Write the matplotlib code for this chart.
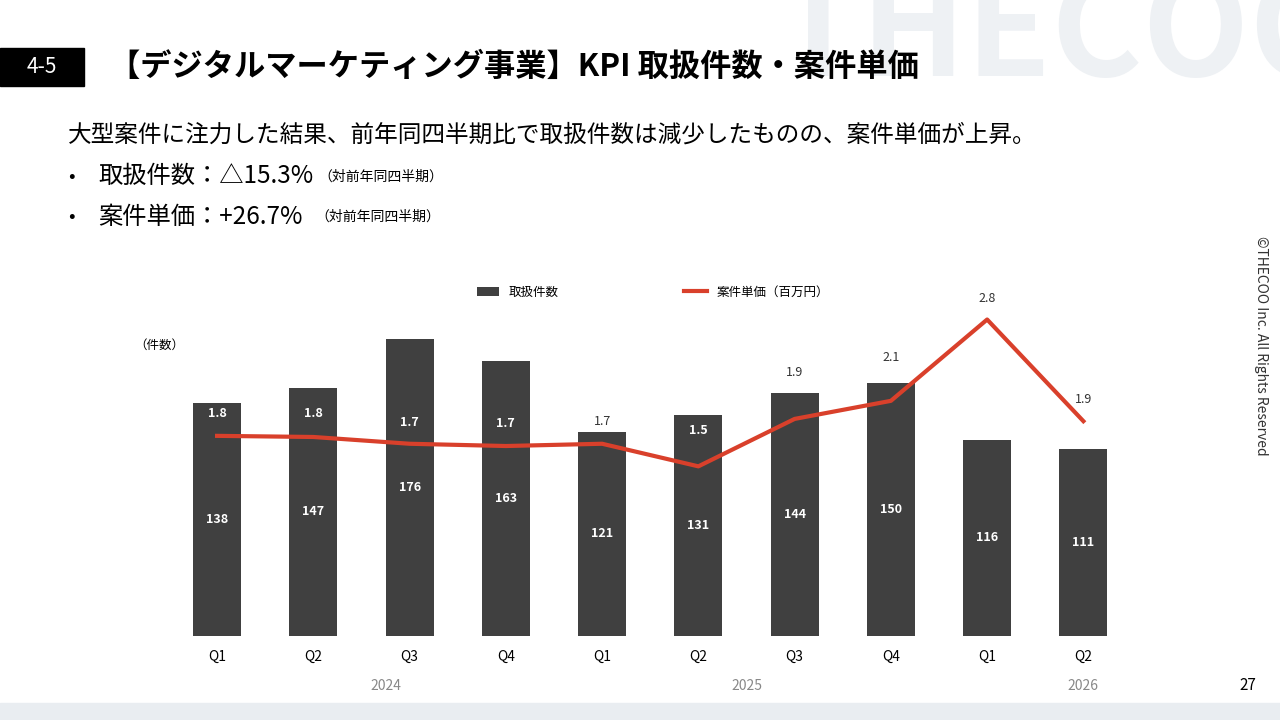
import matplotlib.pyplot as plt
from matplotlib.patches import Rectangle

plt.rcParams['font.family'] = ['Noto Sans CJK JP', 'DejaVu Sans']

quarters = ['Q1', 'Q2', 'Q3', 'Q4', 'Q1', 'Q2', 'Q3', 'Q4', 'Q1', 'Q2']
counts = [138, 147, 176, 163, 121, 131, 144, 150, 116, 111]
unit_price = [1.77, 1.76, 1.70, 1.68, 1.70, 1.50, 1.92, 2.08, 2.80, 1.90]
price_labels = ['1.8', '1.8', '1.7', '1.7', '1.7', '1.5', '1.9', '2.1', '2.8', '1.9']
years = ['2024', '2025', '2026']
year_pos = [1.75, 5.5, 9.0]

# label placement (secondary-axis units) and whether it sits inside a bar
label_y = [1.97, 1.97, 1.89, 1.88, 1.90, 1.82, 2.33, 2.46, 2.99, 2.09]
label_inside = [True, True, True, True, False, True, False, False, False, False]

BAR = '#404040'
RED = '#d9402b'

fig = plt.figure(figsize=(12.8, 7.2), dpi=100)

# background decorations
fig.text(0.605, 0.95, 'THECOO', fontsize=100, fontweight='bold', color='#eef1f4',
         ha='left', va='center', zorder=0)
fig.patches.append(Rectangle((0, 0), 1, 0.024, transform=fig.transFigure, color='#e9edf1', zorder=0))
fig.patches.append(Rectangle((0, 0.88), 0.066, 0.053, transform=fig.transFigure, color='black'))
fig.text(0.033, 0.907, '4-5', color='white', fontsize=15, ha='center', va='center')
fig.text(0.085, 0.907, '【デジタルマーケティング事業】KPI 取扱件数・案件単価', fontsize=22.5,
         fontweight='bold', va='center')
fig.text(0.053, 0.812, '大型案件に注力した結果、前年同四半期比で取扱件数は減少したものの、案件単価が上昇。',
         fontsize=17, va='center')
fig.text(0.053, 0.755, '•', fontsize=14, va='center')
fig.text(0.077, 0.755, '取扱件数：△15.3%', fontsize=17.5, va='center')
fig.text(0.249, 0.755, '（対前年同四半期）', fontsize=10, va='center')
fig.text(0.053, 0.699, '•', fontsize=14, va='center')
fig.text(0.077, 0.699, '案件単価：+26.7%', fontsize=17.5, va='center')
fig.text(0.246, 0.699, '（対前年同四半期）', fontsize=10, va='center')
fig.text(0.985, 0.52, '©THECOO Inc. All Rights Reserved', fontsize=10, rotation=-90,
         ha='center', va='center', color='#333333')
fig.text(0.975, 0.048, '27', fontsize=11, ha='center', va='center')

ax = fig.add_axes([0.132, 0.117, 0.752, 0.48])
x = list(range(len(counts)))
ax.bar(x, counts, width=0.5, color=BAR, label='取扱件数', zorder=1)
ax.set_xlim(-0.5, 9.5)
ax.set_ylim(0, 205)
for s in ax.spines.values():
    s.set_visible(False)
ax.set_yticks([])
ax.set_xticks(x)
ax.set_xticklabels(quarters, fontsize=10)
ax.tick_params(axis='x', length=0, pad=10)
for i, c in enumerate(counts):
    ax.text(i, c / 2, str(c), color='white', fontsize=9, ha='center', va='center', fontweight='bold')
for xp, y in zip(year_pos, years):
    ax.text(xp, -0.145, y, transform=ax.get_xaxis_transform(), ha='center', va='center',
            fontsize=10, color='#888888')
ax.text(-0.036, 0.84, '（件数）', transform=ax.transAxes, fontsize=9, ha='left', va='center')

ax2 = ax.twinx()
ax2.set_ylim(0, 3.06)
ax2.plot(x, unit_price, color=RED, lw=3, label='案件単価（百万円）', zorder=3)
ax2.set_yticks([])
for s in ax2.spines.values():
    s.set_visible(False)
for i, lab in enumerate(price_labels):
    if label_inside[i]:
        ax2.text(i, label_y[i], lab, color='white', fontsize=9, ha='center', va='center', fontweight='bold')
    else:
        ax2.text(i, label_y[i], lab, color='#333333', fontsize=9, ha='center', va='center')

h1, l1 = ax.get_legend_handles_labels()
h2, l2 = ax2.get_legend_handles_labels()
fig.legend(h1 + h2, l1 + l2, loc='center', bbox_to_anchor=(0.51, 0.594), ncol=2, frameon=False,
           fontsize=9, columnspacing=10, handlelength=1.8)

fig.savefig('out.png', dpi=100)
